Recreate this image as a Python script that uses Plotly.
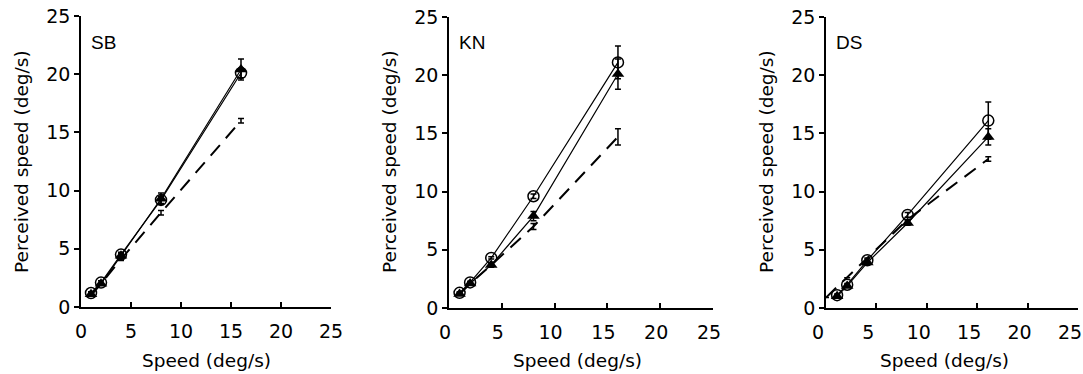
import plotly.graph_objects as go

W, H = 1083, 374

panels = ["SB", "KN", "DS"]

# speeds (deg/s)
sb_x = [1, 2, 4, 8, 16]
sb_circle = [1.2, 2.1, 4.5, 9.2, 20.1]
sb_circle_err = [0.1, 0.15, 0.2, 0.3, 0.4]
sb_tri = [1.1, 2.0, 4.4, 9.3, 20.4]
sb_tri_err = [0.1, 0.1, 0.2, 0.5, 0.9]
sb_dash_x = [1, 2, 4, 8, 16]
sb_dash = [1.0, 2.0, 4.1, 8.1, 16.0]
sb_dash_err = [0.05, 0.1, 0.1, 0.2, 0.2]

kn_x = [1, 2, 4, 8, 16]
kn_circle = [1.3, 2.2, 4.3, 9.6, 21.1]
kn_circle_err = [0.1, 0.1, 0.1, 0.2, 1.4]
kn_tri = [1.2, 2.1, 3.7, 7.9, 20.1]
kn_tri_err = [0.1, 0.1, 0.2, 0.4, 1.3]
kn_dash_x = [1, 2, 4, 8, 16]
kn_dash = [1.2, 2.1, 3.7, 7.0, 14.7]
kn_dash_err = [0.05, 0.1, 0.1, 0.25, 0.7]

ds_x = [1.1, 2.1, 4.1, 8.1, 16.1]
ds_circle = [1.1, 2.0, 4.1, 8.0, 16.1]
ds_circle_err = [0.1, 0.1, 0.1, 0.2, 1.6]
ds_tri = [1.0, 1.9, 3.9, 7.3, 14.7]
ds_tri_err = [0.1, 0.1, 0.1, 0.2, 0.7]
ds_dash_x = [0.0, 2.1, 4.1, 8.1, 16.1]
ds_dash = [0.9, 2.6, 4.3, 7.6, 12.8]
ds_dash_err = [None, None, None, None, 0.2]

ticks = [0, 5, 10, 15, 20, 25]
x_title = "Speed (deg/s)"
y_title = "Perceived speed (deg/s)"

data = [
    (sb_x, sb_circle, sb_circle_err, sb_tri, sb_tri_err, sb_dash_x, sb_dash, sb_dash_err),
    (kn_x, kn_circle, kn_circle_err, kn_tri, kn_tri_err, kn_dash_x, kn_dash, kn_dash_err),
    (ds_x, ds_circle, ds_circle_err, ds_tri, ds_tri_err, ds_dash_x, ds_dash, ds_dash_err),
]

# plot-area pixel boxes (left, right, top, bottom)
boxes = [(81, 331, 16, 307), (449, 713, 17, 308), (826, 1078, 17, 308)]
label_shift = [0, -4, -8]

fig = go.Figure()
FONT = "DejaVu Sans, Verdana, sans-serif"
TICK_SIZE = 19
TITLE_SIZE = 18.5

for i, (name, d, box) in enumerate(zip(panels, data, boxes)):
    x, cy, ce, ty, te, dx, dy, de = d
    xa = "x" if i == 0 else f"x{i+1}"
    ya = "y" if i == 0 else f"y{i+1}"
    eb = dict(type="data", array=de, visible=True, color="black", thickness=1.5, width=3)
    fig.add_trace(go.Scatter(x=dx, y=dy, mode="lines", line=dict(color="black", width=2, dash="14px,9px"),
                             error_y=eb, xaxis=xa, yaxis=ya, showlegend=False))
    fig.add_trace(go.Scatter(x=x, y=ty, mode="lines+markers", line=dict(color="black", width=1.2),
                             marker=dict(symbol="triangle-up", size=11, color="black"),
                             error_y=dict(type="data", array=te, color="black", thickness=1.5, width=3),
                             xaxis=xa, yaxis=ya, showlegend=False))
    fig.add_trace(go.Scatter(x=x, y=cy, mode="lines+markers", line=dict(color="black", width=1.2),
                             marker=dict(symbol="circle-open", size=11, color="black", line=dict(width=1.5)),
                             error_y=dict(type="data", array=ce, color="black", thickness=1.5, width=3),
                             xaxis=xa, yaxis=ya, showlegend=False))
    l, r, t, b = box
    xd = [l / W, r / W]
    yd = [1 - b / H, 1 - t / H]
    common = dict(range=[0, 25], tickvals=ticks, showgrid=False, zeroline=False, showline=True,
                  linecolor="black", linewidth=1.5, tickcolor="black", tickwidth=1.5, ticklen=5,
                  automargin=False,
                  tickfont=dict(family=FONT, size=TICK_SIZE, color="black"), fixedrange=True)
    fig.layout[("xaxis" if i == 0 else f"xaxis{i+1}")] = go.layout.XAxis(
        domain=xd, anchor=ya, ticks="inside", ticklabelshift=label_shift[i], ticklabelstandoff=6, **common)
    fig.layout[("yaxis" if i == 0 else f"yaxis{i+1}")] = go.layout.YAxis(
        domain=yd, anchor=xa, ticks="outside", **common)
    # axis titles
    fig.add_annotation(text=x_title, x=(l + r) / 2 / W + (label_shift[i] / W), y=1 - 360 / H,
                       xref="paper", yref="paper", xanchor="center", yanchor="middle", showarrow=False,
                       font=dict(family=FONT, size=TITLE_SIZE, color="black"))
    fig.add_annotation(text=y_title, x=(l - 59) / W, y=1 - 162 / H, textangle=-90,
                       xref="paper", yref="paper", xanchor="center", yanchor="middle", showarrow=False,
                       font=dict(family=FONT, size=TITLE_SIZE, color="black"))
    fig.add_annotation(text=name, x=(l + 8) / W, y=1 - 42 / H, xref="paper", yref="paper",
                       xanchor="left", yanchor="middle", showarrow=False,
                       font=dict(family="Liberation Sans, Arial, sans-serif", size=19, color="black"))

fig.update_layout(width=W, height=H, margin=dict(l=0, r=0, t=0, b=0),
                  plot_bgcolor="white", paper_bgcolor="white")
fig.write_html("out.html", config={"displayModeBar": False},
               post_script="document.body.style.margin='0';document.body.style.overflow='hidden';")
